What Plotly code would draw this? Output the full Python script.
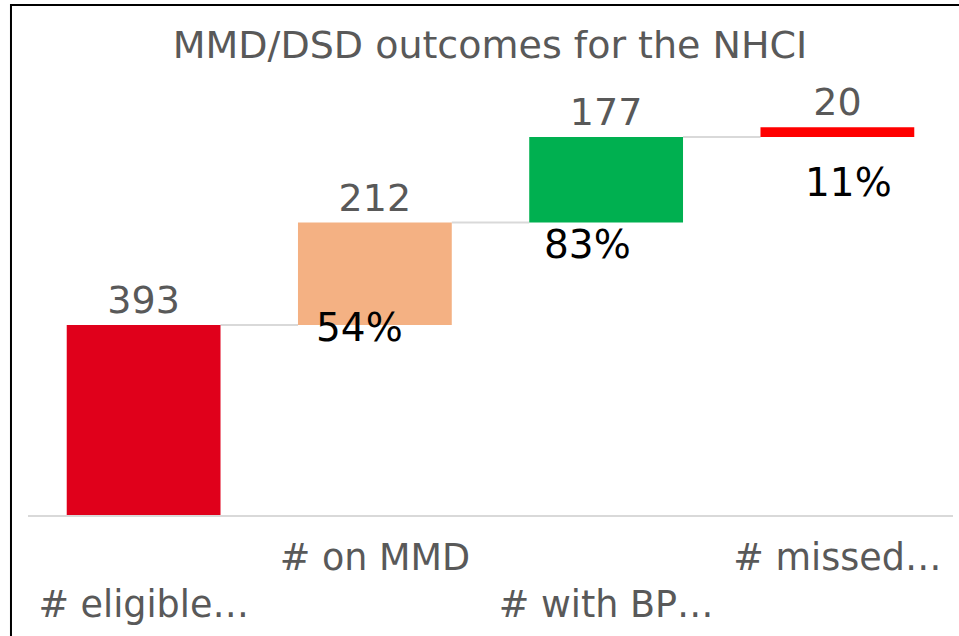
import plotly.graph_objects as go

categories = ["# eligible…", "# on MMD", "# with BP…", "# missed…"]
values = [393, 212, 177, 20]
percent_labels = ["", "54%", "83%", "11%"]
bar_colors = ["#E0001B", "#F4B183", "#00B050", "#FF0000"]

# cumulative bases for the waterfall
bases = []
running = 0
for v in values:
    bases.append(running)
    running += v
tops = [b + v for b, v in zip(bases, values)]

BAR_W = 0.665
FONT = "DejaVu Sans"
GRAY = "#595959"

x_idx = list(range(len(categories)))

fig = go.Figure()
fig.add_trace(go.Bar(
    x=x_idx, y=values, base=bases,
    width=BAR_W,
    marker=dict(color=bar_colors, line=dict(width=0)),
    text=[str(v) for v in values],
    textposition="outside",
    textfont=dict(family=FONT, size=38, color=GRAY),
    cliponaxis=False,
    hoverinfo="skip",
))

shapes = []
# connectors
for i in range(len(values) - 1):
    shapes.append(dict(type="line", xref="x", yref="y",
                       x0=i + BAR_W / 2, x1=i + 1 - BAR_W / 2,
                       y0=tops[i], y1=tops[i],
                       line=dict(color="#D9D9D9", width=2), layer="below"))
# chart border (Excel chart area frame)
shapes.append(dict(type="path", xref="paper", yref="paper",
                   path="M -0.0184,-0.5 L -0.0184,1.1724 L 1.2,1.1724",
                   line=dict(color="#000000", width=2)))

# percent labels (text boxes)
pct_offsets = {1: (-0.065, -6), 2: (-0.08, -45), 3: (0.05, -94)}
annotations = []
for i, lab in enumerate(percent_labels):
    if not lab:
        continue
    dx, dy = pct_offsets[i]
    annotations.append(dict(x=i + dx, y=bases[i] + dy, xref="x", yref="y",
                            text=lab, showarrow=False,
                            font=dict(family=FONT, size=39, color="#000000"),
                            xanchor="center", yanchor="middle"))

ticktext = [("<br>" + c) if i % 2 == 0 else c for i, c in enumerate(categories)]

fig.update_layout(
    width=959, height=636,
    margin=dict(l=28, r=6, t=80, b=121),
    paper_bgcolor="white", plot_bgcolor="white",
    showlegend=False,
    title=dict(text="MMD/DSD outcomes for the NHCI", x=0.511, xanchor="center",
               y=1 - 45 / 636, yref="container", yanchor="middle",
               font=dict(family=FONT, size=38, color=GRAY)),
    shapes=shapes,
    annotations=annotations,
    xaxis=dict(tickmode="array", tickvals=x_idx, ticktext=ticktext,
               range=[-0.5, len(categories) - 0.5],
               showgrid=False, zeroline=False,
               showline=True, linecolor="#D9D9D9", linewidth=2,
               ticks="", ticklabelstandoff=9,
               tickfont=dict(family=FONT, size=36.5, color=GRAY)),
    yaxis=dict(range=[0, 900], visible=False, showgrid=False, zeroline=False),
)

fig.write_html("out.html",
               config={"displayModeBar": False},
               post_script="document.body.style.margin='0';document.body.style.overflow='hidden';")
